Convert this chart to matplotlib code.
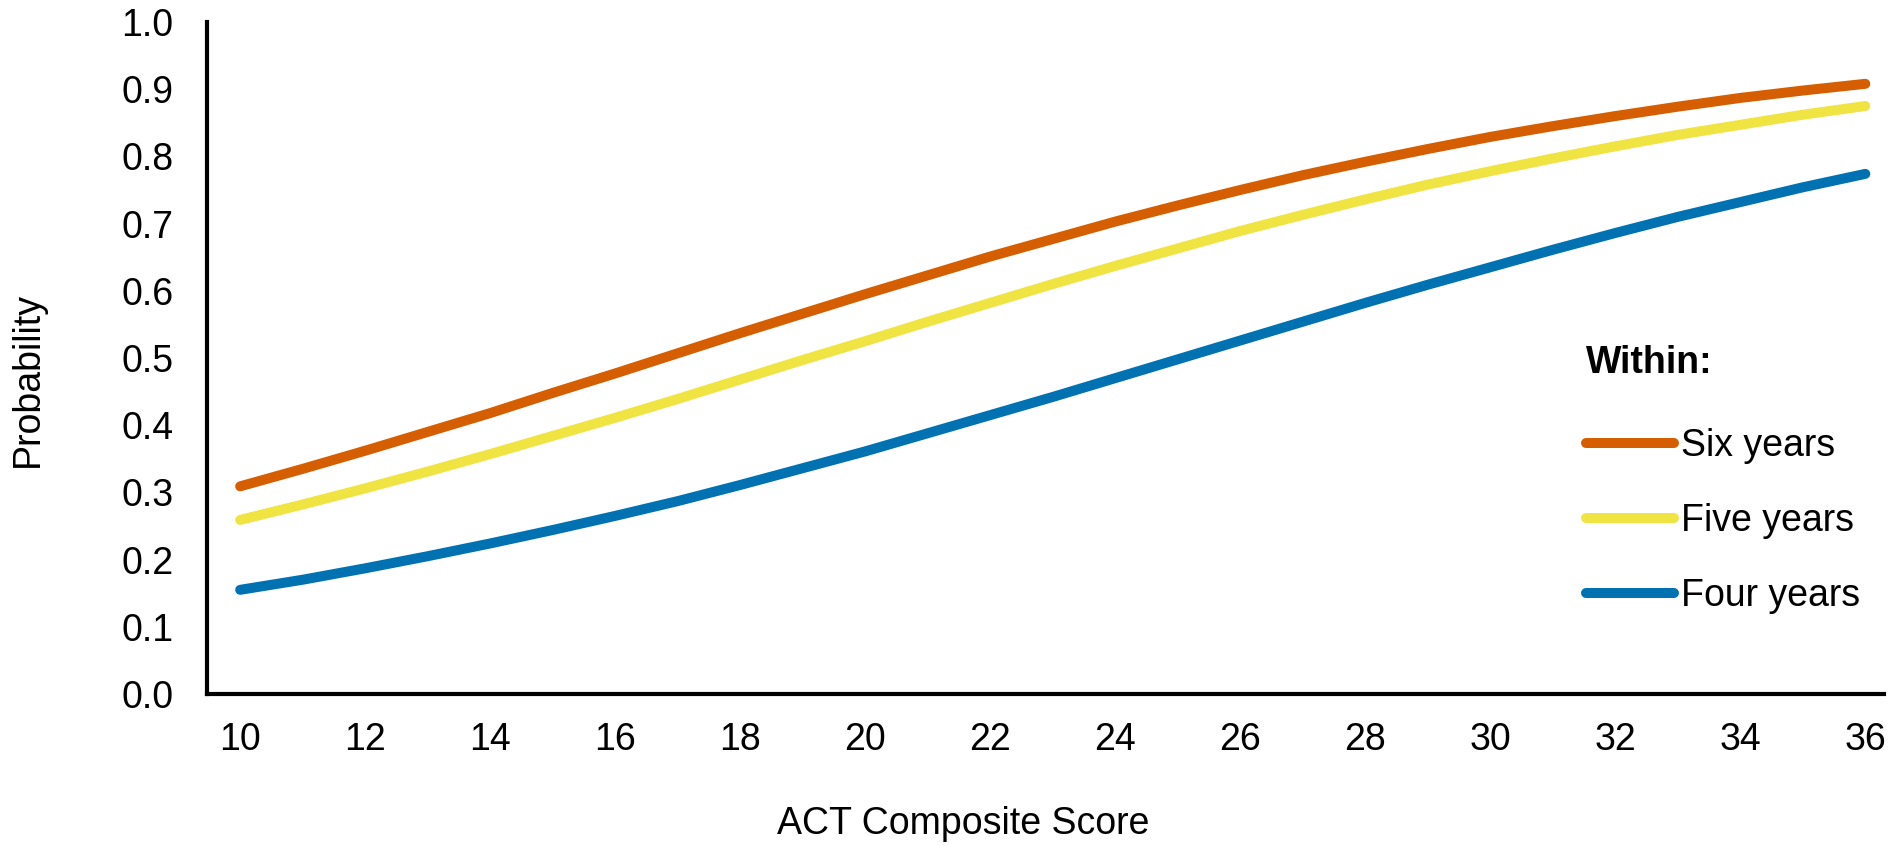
import matplotlib
matplotlib.use('Agg')
import matplotlib.pyplot as plt

plt.rcParams['font.family'] = ['Liberation Sans', 'DejaVu Sans']

# ACT composite score and probability of graduating within N years
scores = [10, 11, 12, 13, 14, 15, 16, 17, 18, 19, 20, 21, 22, 23,
          24, 25, 26, 27, 28, 29, 30, 31, 32, 33, 34, 35, 36]
six_years = [0.309, 0.335, 0.362, 0.390, 0.418, 0.448, 0.477, 0.507, 0.537,
             0.566, 0.595, 0.623, 0.651, 0.677, 0.703, 0.727, 0.750, 0.772,
             0.792, 0.811, 0.829, 0.845, 0.860, 0.874, 0.887, 0.898, 0.908]
five_years = [0.259, 0.282, 0.306, 0.331, 0.357, 0.384, 0.411, 0.439, 0.468,
              0.497, 0.525, 0.554, 0.582, 0.610, 0.637, 0.663, 0.689, 0.713,
              0.736, 0.758, 0.778, 0.797, 0.815, 0.832, 0.847, 0.862, 0.875]
four_years = [0.155, 0.170, 0.187, 0.205, 0.224, 0.244, 0.265, 0.287, 0.311,
              0.336, 0.361, 0.388, 0.415, 0.442, 0.470, 0.498, 0.526, 0.554,
              0.582, 0.609, 0.635, 0.661, 0.686, 0.710, 0.732, 0.754, 0.774]

series = [('Six years', six_years, '#D55E00'),
          ('Five years', five_years, '#F0E442'),
          ('Four years', four_years, '#0072B2')]

x_ticks = list(range(10, 37, 2))
y_ticks = [i / 10 for i in range(11)]

fig = plt.figure(figsize=(18.96, 8.46), dpi=100)
ax = fig.add_axes([0.1092, 0.1797, 0.8845, 0.7943])

for label, values, color in series:
    ax.plot(scores, values, color=color, linewidth=7.2, solid_capstyle='round', label=label)

ax.set_xlim(9.47, 36.3)
ax.set_ylim(0, 1.0)
ax.set_xticks(x_ticks)
ax.set_yticks(y_ticks)
ax.set_yticklabels([f'{v:.1f}' for v in y_ticks])
ax.tick_params(axis='x', length=0, pad=20, labelsize=27)
ax.tick_params(axis='y', length=0, pad=24, labelsize=27)

for side in ['top', 'right']:
    ax.spines[side].set_visible(False)
for side in ['left', 'bottom']:
    ax.spines[side].set_linewidth(3)
    ax.spines[side].set_color('black')

ax.set_xlabel('ACT Composite Score', fontsize=27)
ax.set_ylabel('Probability', fontsize=27)
ax.xaxis.set_label_coords(0.451, -0.167)
ax.yaxis.set_label_coords(-0.096, 0.468)

leg = ax.legend(loc='upper left', bbox_to_anchor=(0.822, 0.52), frameon=False,
                fontsize=27, title='Within:', handlelength=2.35, handletextpad=0.2,
                labelspacing=1.04, borderpad=0, borderaxespad=0)
leg.get_title().set_fontsize(27)
leg.get_title().set_fontweight('bold')
leg._legend_box.align = 'left'
leg._legend_box.sep = 34.3  # gap between title and first entry, points
for line in leg.get_lines():
    line.set_solid_capstyle('round')

fig.savefig('out.png', dpi=100)
plt.close(fig)
